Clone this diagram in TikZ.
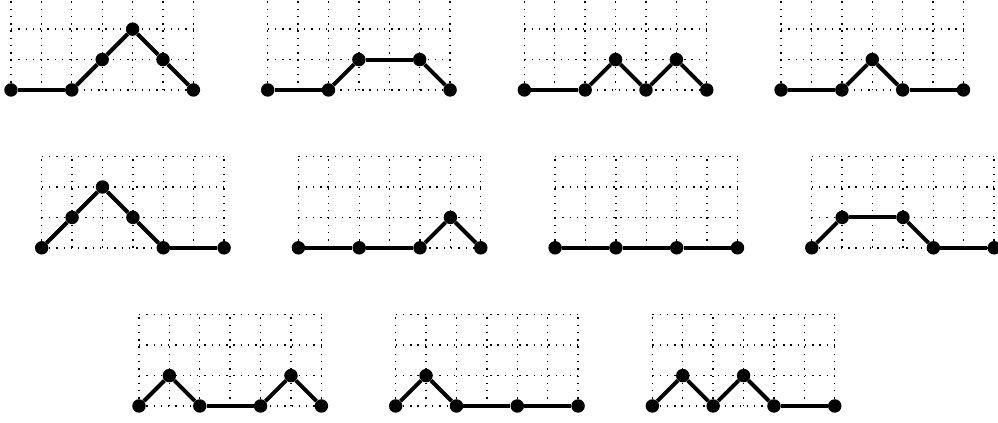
\documentclass[tikz,border=0pt]{standalone}
\begin{document}
\begin{tikzpicture}[x=1cm,y=1cm,
  gridline/.style={line width=1.3pt,dash pattern=on 1.3pt off 5.5pt},
  pathline/.style={line width=3.7pt},
  pt/.style={circle,fill=black,inner sep=0pt,minimum size=12.6pt}]
\newcommand{\schpanel}[4]{%
\begin{scope}[shift={(#2,#3)}]
\draw[gridline] (0,0) grid (6,3);
\foreach \px/\py [count=\k] in {#4} { \node[pt] (#1-\k) at (\px,\py) {}; }
\foreach \px/\py [count=\k, remember=\k as \kprev (initially 0)] in {#4} {
  \ifnum\k>1 \draw[pathline] (#1-\kprev) -- (#1-\k); \fi }
\end{scope}}
\clip (0,0) rectangle (32.83,13.914);
% row 1
\schpanel{a}{0.362}{10.955}{0/0,2/0,3/1,4/2,5/1,6/0}
\schpanel{b}{8.806}{10.955}{0/0,2/0,3/1,5/1,6/0}
\schpanel{c}{17.250}{10.955}{0/0,2/0,3/1,4/0,5/1,6/0}
\schpanel{d}{25.694}{10.955}{0/0,2/0,3/1,4/0,6/0}
% row 2
\schpanel{e}{1.372}{5.762}{0/0,1/1,2/2,3/1,4/0,6/0}
\schpanel{f}{9.816}{5.762}{0/0,2/0,4/0,5/1,6/0}
\schpanel{g}{18.260}{5.762}{0/0,2/0,4/0,6/0}
\schpanel{h}{26.704}{5.762}{0/0,1/1,3/1,4/0,6/0}
% row 3
\schpanel{i}{4.572}{0.559}{0/0,1/1,2/0,4/0,5/1,6/0}
\schpanel{j}{13.016}{0.559}{0/0,1/1,2/0,4/0,6/0}
\schpanel{k}{21.460}{0.559}{0/0,1/1,2/0,3/1,4/0,6/0}
\end{tikzpicture}
\end{document}
